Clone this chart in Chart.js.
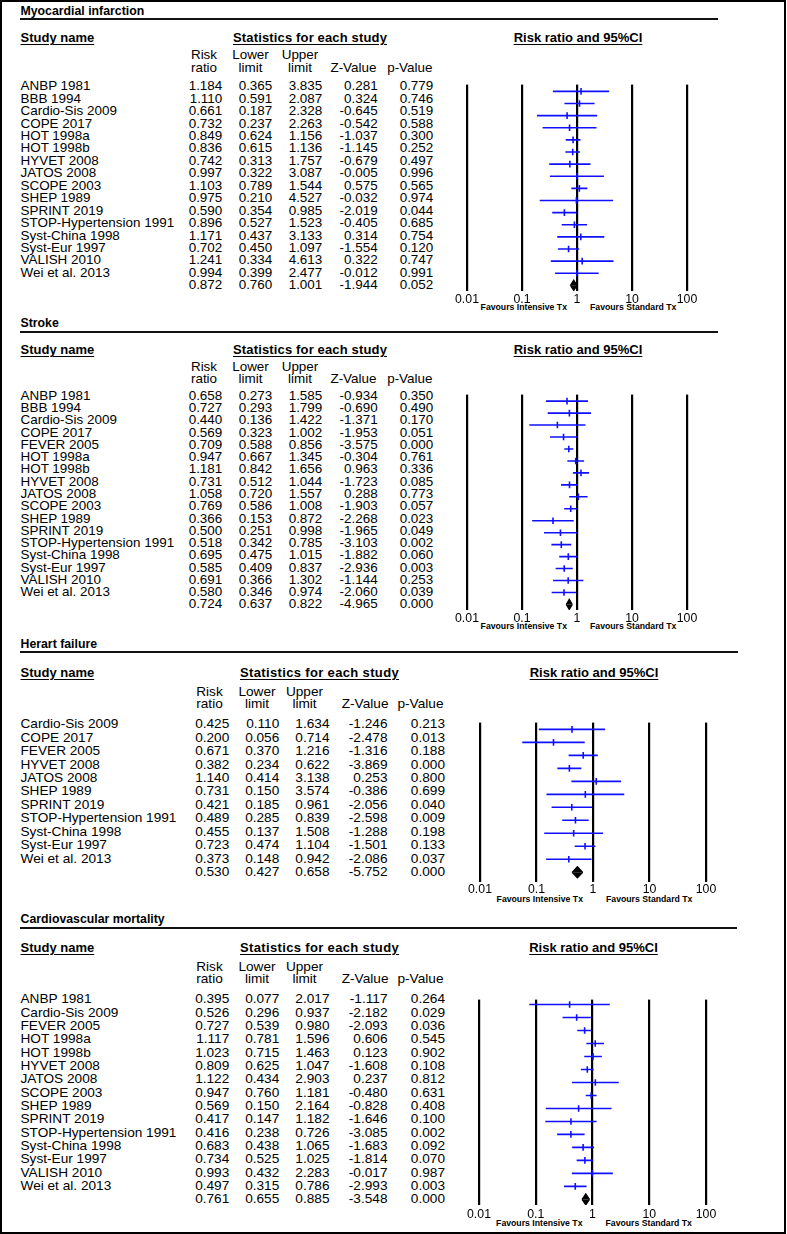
<!DOCTYPE html>
<html><head><meta charset="utf-8">
<script src="https://cdn.jsdelivr.net/npm/chart.js@4.4.0/dist/chart.umd.min.js"></script>
<style>
html,body{margin:0;padding:0;background:#fff;}
body{width:787px;height:1234px;position:relative;overflow:hidden;font-family:"Liberation Sans",Arial,sans-serif;color:#000;}
#frame{position:absolute;left:0;top:0;width:786px;height:1234px;box-sizing:border-box;border:2px solid #000;}
.t{position:absolute;white-space:nowrap;line-height:14px;}
.hl{position:absolute;height:2px;background:#111;}
</style></head><body>
<div id="frame"></div>
<script>
// ---------------- DATA ----------------
const tickValues = [0.01, 0.1, 1, 10, 100];
const tickLabels = ["0.01", "0.1", "1", "10", "100"];

// Myocardial infarction (last value = pooled summary)
const miStudies = ["ANBP 1981","BBB 1994","Cardio-Sis 2009","COPE 2017","HOT 1998a","HOT 1998b","HYVET 2008","JATOS 2008","SCOPE 2003","SHEP 1989","SPRINT 2019","STOP-Hypertension 1991","Syst-China 1998","Syst-Eur 1997","VALISH 2010","Wei et al. 2013"];
const miRR    = [1.184,1.110,0.661,0.732,0.849,0.836,0.742,0.997,1.103,0.975,0.590,0.896,1.171,0.702,1.241,0.994,0.872];
const miLower = [0.365,0.591,0.187,0.237,0.624,0.615,0.313,0.322,0.789,0.210,0.354,0.527,0.437,0.450,0.334,0.399,0.760];
const miUpper = [3.835,2.087,2.328,2.263,1.156,1.136,1.757,3.087,1.544,4.527,0.985,1.523,3.133,1.097,4.613,2.477,1.001];
const miZ     = ["0.281","0.324","-0.645","-0.542","-1.037","-1.145","-0.679","-0.005","0.575","-0.032","-2.019","-0.405","0.314","-1.554","0.322","-0.012","-1.944"];
const miP     = ["0.779","0.746","0.519","0.588","0.300","0.252","0.497","0.996","0.565","0.974","0.044","0.685","0.754","0.120","0.747","0.991","0.052"];

// Stroke
const stStudies = ["ANBP 1981","BBB 1994","Cardio-Sis 2009","COPE 2017","FEVER 2005","HOT 1998a","HOT 1998b","HYVET 2008","JATOS 2008","SCOPE 2003","SHEP 1989","SPRINT 2019","STOP-Hypertension 1991","Syst-China 1998","Syst-Eur 1997","VALISH 2010","Wei et al. 2013"];
const stRR    = [0.658,0.727,0.440,0.569,0.709,0.947,1.181,0.731,1.058,0.769,0.366,0.500,0.518,0.695,0.585,0.691,0.580,0.724];
const stLower = [0.273,0.293,0.136,0.323,0.588,0.667,0.842,0.512,0.720,0.586,0.153,0.251,0.342,0.475,0.409,0.366,0.346,0.637];
const stUpper = [1.585,1.799,1.422,1.002,0.856,1.345,1.656,1.044,1.557,1.008,0.872,0.998,0.785,1.015,0.837,1.302,0.974,0.822];
const stZ     = ["-0.934","-0.690","-1.371","-1.953","-3.575","-0.304","0.963","-1.723","0.288","-1.903","-2.268","-1.965","-3.103","-1.882","-2.936","-1.144","-2.060","-4.965"];
const stP     = ["0.350","0.490","0.170","0.051","0.000","0.761","0.336","0.085","0.773","0.057","0.023","0.049","0.002","0.060","0.003","0.253","0.039","0.000"];

// Heart failure
const hfStudies = ["Cardio-Sis 2009","COPE 2017","FEVER 2005","HYVET 2008","JATOS 2008","SHEP 1989","SPRINT 2019","STOP-Hypertension 1991","Syst-China 1998","Syst-Eur 1997","Wei et al. 2013"];
const hfRR    = [0.425,0.200,0.671,0.382,1.140,0.731,0.421,0.489,0.455,0.723,0.373,0.530];
const hfLower = [0.110,0.056,0.370,0.234,0.414,0.150,0.185,0.285,0.137,0.474,0.148,0.427];
const hfUpper = [1.634,0.714,1.216,0.622,3.138,3.574,0.961,0.839,1.508,1.104,0.942,0.658];
const hfZ     = ["-1.246","-2.478","-1.316","-3.869","0.253","-0.386","-2.056","-2.598","-1.288","-1.501","-2.086","-5.752"];
const hfP     = ["0.213","0.013","0.188","0.000","0.800","0.699","0.040","0.009","0.198","0.133","0.037","0.000"];

// Cardiovascular mortality
const cvStudies = ["ANBP 1981","Cardio-Sis 2009","FEVER 2005","HOT 1998a","HOT 1998b","HYVET 2008","JATOS 2008","SCOPE 2003","SHEP 1989","SPRINT 2019","STOP-Hypertension 1991","Syst-China 1998","Syst-Eur 1997","VALISH 2010","Wei et al. 2013"];
const cvRR    = [0.395,0.526,0.727,1.117,1.023,0.809,1.122,0.947,0.569,0.417,0.416,0.683,0.734,0.993,0.497,0.761];
const cvLower = [0.077,0.296,0.539,0.781,0.715,0.625,0.434,0.760,0.150,0.147,0.238,0.438,0.525,0.432,0.315,0.655];
const cvUpper = [2.017,0.937,0.980,1.596,1.463,1.047,2.903,1.181,2.164,1.182,0.726,1.065,1.025,2.283,0.786,0.885];
const cvZ     = ["-1.117","-2.182","-2.093","0.606","0.123","-1.608","0.237","-0.480","-0.828","-1.646","-3.085","-1.683","-1.814","-0.017","-2.993","-3.548"];
const cvP     = ["0.264","0.029","0.036","0.545","0.902","0.108","0.812","0.631","0.408","0.100","0.002","0.092","0.070","0.987","0.003","0.000"];

// ---------------- LAYOUT ----------------
const FONT = '"Liberation Sans", Arial, sans-serif';
const BLUE = '#1010ff';
const groupA = {size:13.45, cols:[222.3,272.3,322.3,377.7,433.3], hdrRisk:204, hdrLower:250.5, hdrUpper:300, hdrZ:376.5, hdrP:432.5, statsX:233, statsLs:0.15};
const groupB = {size:13.65, cols:[229.3,279.3,329.5,387.5,445], hdrRisk:209.5, hdrLower:257, hdrUpper:304.5, hdrZ:388.5, hdrP:443.5, statsX:240, statsLs:0.35};

const panels = [
  {title:"Myocardial infarction", titleY:11, lineY:19, lineX2:718, headY:38, subY:[55,68], rowStart:86, pitch:12.45, plotTop:79, plotH:212, axisPad:1, favY:307, xLeft:467, xRight:687, g:groupA,
   names:miStudies, rr:miRR, lo:miLower, hi:miUpper, z:miZ, p:miP},
  {title:"Stroke", titleY:323, lineY:331.5, lineX2:718, headY:350, subY:[367,379], rowStart:395.7, pitch:12.27, plotTop:389, plotH:221, axisPad:1, favY:625.7, xLeft:467, xRight:687, g:groupA,
   names:stStudies, rr:stRR, lo:stLower, hi:stUpper, z:stZ, p:stP},
  {title:"Herart failure", titleY:644.3, lineY:652.3, lineX2:738, headY:672.7, subY:[691.7,704], rowStart:724, pitch:13.45, plotTop:717, plotH:165, axisPad:0, favY:899, xLeft:480, xRight:706, g:groupB,
   names:hfStudies, rr:hfRR, lo:hfLower, hi:hfUpper, z:hfZ, p:hfP},
  {title:"Cardiovascular mortality", titleY:919, lineY:927.7, lineX2:737, headY:947.7, subY:[966.7,979.3], rowStart:999, pitch:13.35, plotTop:994, plotH:211, axisPad:2, favY:1223, xLeft:479, xRight:706, g:groupB,
   names:cvStudies, rr:cvRR, lo:cvLower, hi:cvUpper, z:cvZ, p:cvP}
];

function txt(str, x, y, o) {
  o = o || {};
  const d = document.createElement('div');
  d.className = 't';
  d.textContent = str;
  let tr = '';
  if (o.align === 'right') tr = 'translateX(-100%)';
  else if (o.align === 'center') tr = 'translateX(-50%)';
  d.style.left = x + 'px';
  d.style.top = (y - 6.85) + 'px';
  if (tr) d.style.transform = tr;
  d.style.fontSize = (o.size || 13) + 'px';
  if (o.bold) d.style.fontWeight = 'bold';
  if (o.underline) { d.style.textDecoration = 'underline'; d.style.textUnderlineOffset = '2px'; }
  if (o.ls) d.style.letterSpacing = o.ls + 'px';
  document.body.appendChild(d);
}

function hline(y, x1, x2) {
  const d = document.createElement('div');
  d.className = 'hl';
  d.style.left = x1 + 'px';
  d.style.width = (x2 - x1) + 'px';
  d.style.top = (y - 1) + 'px';
  document.body.appendChild(d);
}

function buildPanel(P) {
  const g = P.g, s = g.size;
  const x1 = (P.xLeft + P.xRight) / 2;
  txt(P.title, 20.5, P.titleY, {bold:true, size:12.3});
  hline(P.lineY, 20, P.lineX2);
  txt("Study name", 20.5, P.headY, {bold:true, size:13, underline:true});
  txt("Statistics for each study", g.statsX, P.headY, {bold:true, size:13, underline:true, ls:g.statsLs});
  txt("Risk ratio and 95%CI", x1 + 1, P.headY, {bold:true, size:13, underline:true, align:'center'});
  txt("Risk", g.hdrRisk, P.subY[0], {size:s, align:'center'});
  txt("ratio", g.hdrRisk, P.subY[1], {size:s, align:'center'});
  txt("Lower", g.hdrLower, P.subY[0], {size:s, align:'center'});
  txt("limit", g.hdrLower, P.subY[1], {size:s, align:'center'});
  txt("Upper", g.hdrUpper, P.subY[0], {size:s, align:'center'});
  txt("limit", g.hdrUpper, P.subY[1], {size:s, align:'center'});
  txt("Z-Value", g.hdrZ, P.subY[1], {size:s, align:'right'});
  txt("p-Value", g.hdrP, P.subY[1], {size:s, align:'right'});
  const n = P.rr.length;
  for (let i = 0; i < n; i++) {
    const y = P.rowStart + i * P.pitch;
    if (i < P.names.length) txt(P.names[i], 20.5, y, {size:s});
    txt(P.rr[i].toFixed(3), g.cols[0], y, {size:s, align:'right'});
    txt(P.lo[i].toFixed(3), g.cols[1], y, {size:s, align:'right'});
    txt(P.hi[i].toFixed(3), g.cols[2], y, {size:s, align:'right'});
    txt(P.z[i], g.cols[3], y, {size:s, align:'right'});
    txt(P.p[i], g.cols[4], y, {size:s, align:'right'});
  }
  txt("Favours Intensive Tx", x1 - 10, P.favY, {bold:true, size:8.7, align:'right'});
  txt("Favours Standard Tx", x1 + 13, P.favY, {bold:true, size:8.7});

  // chart
  const box = document.createElement('div');
  box.style.cssText = 'position:absolute;left:' + (P.xLeft - 30) + 'px;top:' + P.plotTop + 'px;width:' + (P.xRight - P.xLeft + 60) + 'px;height:' + (P.plotH + 20) + 'px;';
  const cv = document.createElement('canvas');
  box.appendChild(cv);
  document.body.appendChild(box);

  const datasets = [];
  const ns = n - 1;
  for (let i = 0; i < ns; i++) {
    datasets.push({data:[{x:P.lo[i], y:i + 1}, {x:P.hi[i], y:i + 1}], showLine:true, borderColor:BLUE, borderWidth:1.6, pointRadius:0, fill:false});
  }
  datasets.push({data:P.rr.slice(0, ns).map((v, i) => ({x:v, y:i + 1})), showLine:false, pointStyle:'line', rotation:90, pointRadius:3.3, borderColor:BLUE, pointBorderColor:BLUE, pointBorderWidth:1.6, borderWidth:1.6});
  const rs = n, h = 0.43;
  [-h, h].forEach(dh => {
    datasets.push({data:[{x:P.lo[ns], y:rs}, {x:P.rr[ns], y:rs + dh}, {x:P.hi[ns], y:rs}], showLine:true, fill:{value:rs}, backgroundColor:'#000', borderColor:'#000', borderWidth:1.2, pointRadius:0, tension:0});
  });

  const yMin = 1 - (P.rowStart - P.plotTop) / P.pitch;
  const yMax = yMin + P.plotH / P.pitch;
  new Chart(cv, {
    type:'scatter',
    data:{datasets},
    options:{
      responsive:true, maintainAspectRatio:false, animation:false, events:[],
      layout:{padding:{left:30, right:30, top:0, bottom:0}},
      plugins:{legend:{display:false}, tooltip:{enabled:false}},
      scales:{
        x:{type:'logarithmic', min:0.01, max:100, position:'bottom',
           afterBuildTicks:sc => { sc.ticks = tickValues.map(v => ({value:v})); },
           afterFit:sc => { sc.height = 20; },
           grid:{color:'#000', lineWidth:2.2, drawTicks:false, drawOnChartArea:true},
           border:{display:false},
           ticks:{autoSkip:false, maxRotation:0, minRotation:0, padding:P.axisPad, color:'#000', font:{family:FONT, size:12.3}, callback:(v, i) => tickLabels[i]}},
        y:{type:'linear', reverse:true, min:yMin, max:yMax, display:false}
      }
    }
  });
}

panels.forEach(buildPanel);
</script>
</body></html>
